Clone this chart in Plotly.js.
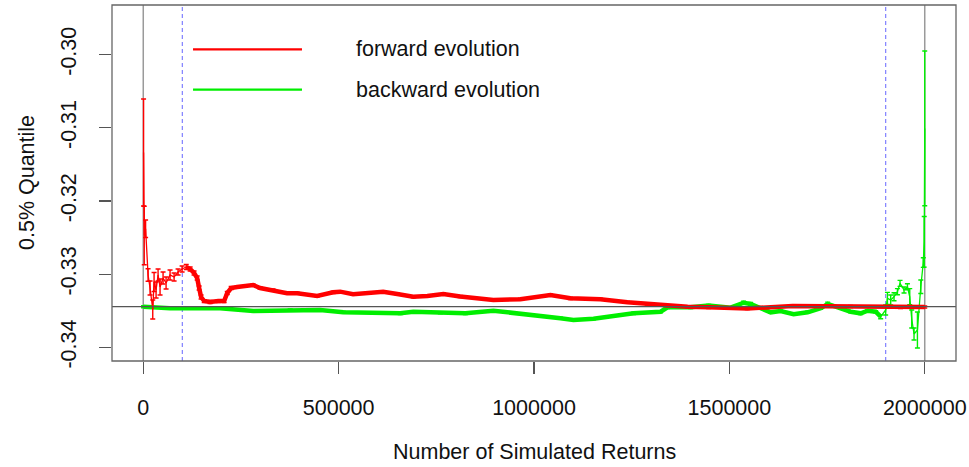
<!DOCTYPE html>
<html>
<head>
<meta charset="utf-8">
<script src="https://cdn.plot.ly/plotly-3.0.1.min.js"></script>
<style>html,body{margin:0;padding:0;background:#fff;}#chart{width:969px;height:467px;}</style>
</head>
<body>
<div id="chart"></div>
<script>
// ---- data ----
const fwdX = [800, 2500, 6000, 12300, 17400, 24300, 27700, 32800, 37900, 43000, 50700, 58400, 68600, 78900, 89100, 99400,
  110000, 120000, 130000, 138000, 143000, 148000, 156000, 171000, 192000, 207000, 215000, 225000, 240000, 281000, 299000,
  332000, 368000, 394000, 445000, 486000, 504000, 537000, 573000, 614000, 650000, 691000, 727000, 768000, 811000, 896000,
  965000, 1042000, 1093000, 1170000, 1239000, 1290000, 1342000, 1393000, 1447000, 1546000, 1662000, 1810000, 1938000, 2000000];
const fwdY = [-0.31339, -0.32473, -0.32381, -0.33012, -0.33190, -0.33484, -0.33108, -0.33217, -0.33012, -0.33176, -0.33053, -0.33122, -0.33012, -0.33040, -0.32971, -0.32930,
  -0.32903, -0.32930, -0.32985, -0.33053, -0.33190, -0.33313, -0.33368, -0.33381, -0.33368, -0.33368, -0.33258, -0.33190, -0.33176, -0.33149, -0.33190,
  -0.33217, -0.33262, -0.33262, -0.33299, -0.33249, -0.33240, -0.33276, -0.33262, -0.33240, -0.33272, -0.33309, -0.33299, -0.33272, -0.33306, -0.33354,
  -0.33344, -0.33286, -0.33331, -0.33344, -0.33385, -0.33408, -0.33432, -0.33445, -0.33454, -0.33470, -0.33436, -0.33443, -0.33456, -0.33449];
const fwdErr = [0.00731, 0.00400, 0.00120, 0.00085, 0.00096, 0.00130, 0.00130, 0.00110, 0.00082, 0.00110, 0.00082, 0.00082, 0.00068, 0.00055, 0.00041, 0.00041,
  0.00034, 0.00027, 0.00027, 0.00027, 0.00027, 0.00027, 0.00020, 0.00020, 0.00020, 0.00020, 0.00020, 0.00020, 0.00015, 0.00015, 0.00015,
  0.00015, 0.00015, 0.00015, 0.00015, 0.00015, 0.00015, 0.00015, 0.00015, 0.00015, 0.00015, 0.00015, 0.00015, 0.00015, 0.00015, 0.00015,
  0.00015, 0.00015, 0.00015, 0.00015, 0.00015, 0.00015, 0.00015, 0.00015, 0.00015, 0.00015, 0.00015, 0.00015, 0.00015, 0.00015];

const bwdX = [800, 68600, 145500, 196700, 281300, 376000, 452900, 511800, 606600, 657800, 691100, 760300, 824400, 896100, 947400,
  1016500, 1067700, 1101000, 1152300, 1203500, 1254700, 1323900, 1341800, 1400700, 1446800, 1503100, 1536400, 1554300, 1579900,
  1605500, 1631100, 1664400, 1700300, 1733600, 1751500, 1784800, 1810400, 1836000, 1853900, 1874400, 1887300, 1900000, 1904500,
  1912900, 1921400, 1930100, 1936800, 1947000, 1955700, 1961600, 1966700, 1972600, 1981300, 1989900, 1996300, 1998700, 2000000];
const bwdY = [-0.33445, -0.33467, -0.33467, -0.33467, -0.33504, -0.33490, -0.33490, -0.33522, -0.33527, -0.33536, -0.33514, -0.33527, -0.33536, -0.33500, -0.33527,
  -0.33572, -0.33604, -0.33627, -0.33609, -0.33572, -0.33536, -0.33514, -0.33454, -0.33454, -0.33429, -0.33459, -0.33391, -0.33408, -0.33467,
  -0.33522, -0.33504, -0.33549, -0.33522, -0.33467, -0.33408, -0.33467, -0.33514, -0.33536, -0.33500, -0.33514, -0.33582, -0.33490, -0.33331,
  -0.33354, -0.33309, -0.33240, -0.33126, -0.33217, -0.33172, -0.33309, -0.33613, -0.33818, -0.33764, -0.33172, -0.32842, -0.32559, -0.31010];
const bwdErr = [0.00015, 0.00015, 0.00015, 0.00015, 0.00015, 0.00015, 0.00015, 0.00015, 0.00015, 0.00015, 0.00015, 0.00015, 0.00015, 0.00015, 0.00015,
  0.00015, 0.00015, 0.00015, 0.00015, 0.00015, 0.00015, 0.00015, 0.00015, 0.00015, 0.00015, 0.00015, 0.00022, 0.00020, 0.00015,
  0.00015, 0.00015, 0.00015, 0.00015, 0.00015, 0.00025, 0.00015, 0.00015, 0.00015, 0.00015, 0.00015, 0.00027, 0.00068, 0.00082,
  0.00068, 0.00055, 0.00041, 0.00041, 0.00041, 0.00041, 0.00110, 0.00123, 0.00082, 0.00246, 0.00092, 0.00066, 0.00346, 0.01057];

const xTickVals = [0, 500000, 1000000, 1500000, 2000000];
const xTickText = ['0', '500000', '1000000', '1500000', '2000000'];
const yTickVals = [-0.34, -0.33, -0.32, -0.31, -0.30];
const yTickText = ['-0.34', '-0.33', '-0.32', '-0.31', '-0.30'];
const refLevel = -0.33445;
const blueMarks = [100000, 1900000];
const greyMarks = [0, 2000000];
const legendNames = ['forward evolution', 'backward evolution'];

// ---- drawing ----
const RED = '#ff0000', GREEN = '#00ee00';
const FONT = 'Liberation Sans, Arial, Helvetica, sans-serif';

function thinTrace(x, y, e, c) {
  return {x: x, y: y, type: 'scatter', mode: 'lines', line: {color: c, width: 1.3},
    error_y: {type: 'data', array: e, symmetric: true, color: c, thickness: 1.4, width: 2.5},
    hoverinfo: 'skip', showlegend: false};
}
function thickTrace(x, y, c, keep) {
  const xs = [], ys = [];
  x.forEach((v, i) => { if (keep(v)) { xs.push(v); ys.push(y[i]); } });
  return {x: xs, y: ys, type: 'scatter', mode: 'lines', line: {color: c, width: 4.5},
    hoverinfo: 'skip', showlegend: false};
}

const data = [
  thinTrace(bwdX, bwdY, bwdErr, GREEN),
  thickTrace(bwdX, bwdY, GREEN, v => v <= 1895000),
  thinTrace(fwdX, fwdY, fwdErr, RED),
  thickTrace(fwdX, fwdY, RED, v => v >= 105000)
];

const shapes = [];
greyMarks.forEach(v => shapes.push({type: 'line', xref: 'x', yref: 'paper', x0: v, x1: v, y0: 0, y1: 1,
  line: {color: '#9a9a9a', width: 1.5}, layer: 'below'}));
blueMarks.forEach(v => shapes.push({type: 'line', xref: 'x', yref: 'paper', x0: v, x1: v, y0: 0, y1: 1,
  line: {color: '#8080ff', width: 1.2, dash: '4px,3px'}, layer: 'below'}));
shapes.push({type: 'line', xref: 'paper', yref: 'y', x0: 0, x1: 1, y0: refLevel, y1: refLevel,
  line: {color: '#555555', width: 1.2}, layer: 'above'});
shapes.push({type: 'rect', xref: 'paper', yref: 'paper', x0: 0, x1: 1, y0: 0, y1: 1,
  line: {color: '#666666', width: 1.3}, layer: 'above'});
// legend samples
const legY = [0.8756, 0.7621];
[RED, GREEN].forEach((c, i) => shapes.push({type: 'line', xref: 'paper', yref: 'paper',
  x0: 0.0960, x1: 0.2251, y0: legY[i], y1: legY[i], line: {color: c, width: 2.2}}));

const annotations = legendNames.map((t, i) => ({xref: 'paper', yref: 'paper', x: 0.2867, y: legY[i],
  xanchor: 'left', yanchor: 'middle', text: t, showarrow: false, font: {family: FONT, size: 21.5, color: '#111'}}));
annotations.push({xref: 'paper', yref: 'paper', x: 0.5, y: -0.2556, xanchor: 'center', yanchor: 'middle',
  text: 'Number of Simulated Returns', showarrow: false, font: {family: FONT, size: 21.5, color: '#111'}});
annotations.push({xref: 'paper', yref: 'paper', x: -0.1007, y: 0.5, xanchor: 'center', yanchor: 'middle',
  textangle: -90, text: '0.5% Quantile', showarrow: false, font: {family: FONT, size: 21.5, color: '#111'}});

const layout = {
  width: 969, height: 467,
  margin: {l: 112, r: 13, t: 5, b: 106, pad: 0},
  paper_bgcolor: '#fff', plot_bgcolor: '#fff',
  showlegend: false,
  font: {family: FONT, size: 21.5, color: '#111'},
  xaxis: {range: [-80000, 2080000], tickmode: 'array', tickvals: xTickVals, ticktext: xTickText,
    ticks: 'outside', ticklen: 12, tickwidth: 1.2, tickcolor: '#555', ticklabelstandoff: 15,
    showgrid: false, zeroline: false, showline: false, tickfont: {family: FONT, size: 21.5, color: '#111'}},
  yaxis: {range: [-0.34187, -0.29324], tickmode: 'array', tickvals: yTickVals, ticktext: yTickText,
    ticks: 'outside', ticklen: 12, tickwidth: 1.2, tickcolor: '#555', tickangle: -90, ticklabelstandoff: 14,
    showgrid: false, zeroline: false, showline: false, tickfont: {family: FONT, size: 21.5, color: '#111'}},
  shapes: shapes,
  annotations: annotations
};

Plotly.newPlot('chart', data, layout, {staticPlot: true, displayModeBar: false});
</script>
</body>
</html>
